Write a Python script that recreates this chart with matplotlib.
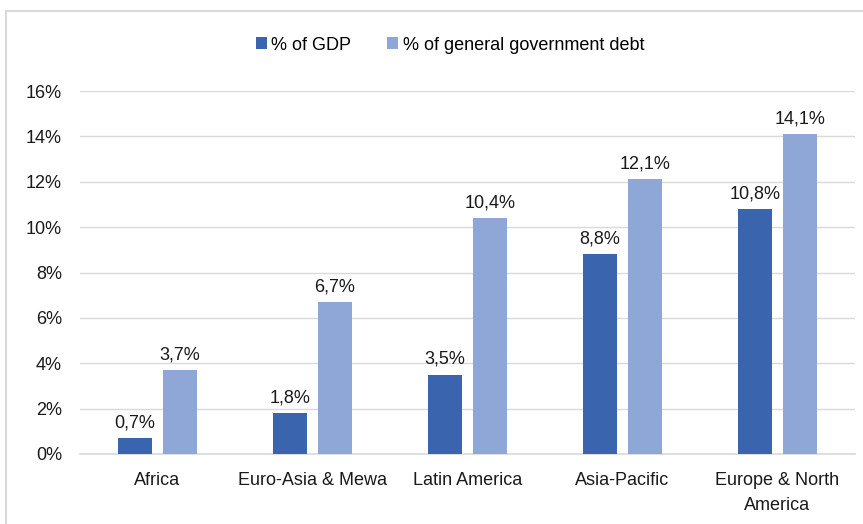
import matplotlib
matplotlib.use("Agg")
import matplotlib.pyplot as plt
from matplotlib.patches import Rectangle
import numpy as np

categories = ["Africa", "Euro-Asia & Mewa", "Latin America", "Asia-Pacific", "Europe & North\nAmerica"]
gdp = [0.7, 1.8, 3.5, 8.8, 10.8]
debt = [3.7, 6.7, 10.4, 12.1, 14.1]
series_names = ["% of GDP", "% of general government debt"]
yticks = [0, 2, 4, 6, 8, 10, 12, 14, 16]

c1 = "#3A64AD"
c2 = "#8FA7D7"

plt.rcParams['font.family'] = ["Liberation Sans", "DejaVu Sans"]
fs = 13
tc = "#1A1A1A"

W, H = 863, 524
fig = plt.figure(figsize=(W/100, H/100), dpi=100)
fig.patches.append(Rectangle((6/W, -0.1), 1.2, 1.1 - 11/H, transform=fig.transFigure,
                             fill=False, edgecolor="#D9D9D9", linewidth=1.5))

ax = fig.add_axes([80/W, 1 - 454/H, (855-80)/W, (454-91)/H])
x = np.arange(len(categories))
bw = 0.225
gap = 0.065
off = (bw + gap) / 2
b1 = ax.bar(x - off, gdp, bw, color=c1, label=series_names[0], zorder=3)
b2 = ax.bar(x + off, debt, bw, color=c2, label=series_names[1], zorder=3)

fmt = lambda v: f"{v:.1f}".replace(".", ",") + "%"
for bars, vals in ((b1, gdp), (b2, debt)):
    for r, v in zip(bars, vals):
        ax.annotate(fmt(v), (r.get_x() + r.get_width()/2, v), xytext=(0, 5),
                    textcoords="offset points", ha="center", va="bottom",
                    fontsize=fs, color=tc)

ax.set_xlim(-0.5, len(categories) - 0.5)
ax.set_ylim(0, 16)
ax.set_yticks(yticks)
ax.set_yticklabels([f"{t}%" for t in yticks], fontsize=fs, color=tc)
ax.set_xticks(x)
ax.set_xticklabels(categories, fontsize=fs, color=tc, linespacing=1.6)
ax.tick_params(axis="x", length=0, pad=13)
ax.tick_params(axis="y", length=0, pad=13)
ax.grid(axis="y", color="#D9D9D9", linewidth=1, zorder=0)
for s in ["top", "right", "left"]:
    ax.spines[s].set_visible(False)
ax.spines["bottom"].set_color("#D9D9D9")
ax.spines["bottom"].set_linewidth(1.2)

fig.legend(handles=[b1, b2], labels=series_names, loc="center", bbox_to_anchor=(450/W, 1 - 45/H),
           ncol=2, frameon=False, fontsize=fs, handlelength=0.6, handleheight=0.6,
           handletextpad=0.25, columnspacing=2.0)

fig.savefig("out.png", dpi=100)
